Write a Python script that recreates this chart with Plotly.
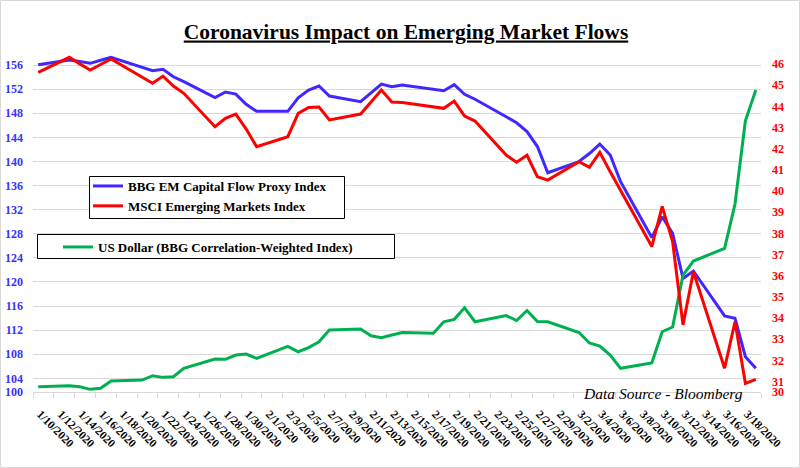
import plotly.graph_objects as go

# ---------------- data ----------------
trade_dates = [
    "2020-01-10", "2020-01-13", "2020-01-14", "2020-01-15", "2020-01-16", "2020-01-17",
    "2020-01-21", "2020-01-22", "2020-01-23", "2020-01-24",
    "2020-01-27", "2020-01-28", "2020-01-29", "2020-01-30", "2020-01-31",
    "2020-02-03", "2020-02-04", "2020-02-05", "2020-02-06", "2020-02-07",
    "2020-02-10", "2020-02-11", "2020-02-12", "2020-02-13", "2020-02-14",
    "2020-02-18", "2020-02-19", "2020-02-20", "2020-02-21",
    "2020-02-24", "2020-02-25", "2020-02-26", "2020-02-27", "2020-02-28",
    "2020-03-02", "2020-03-03", "2020-03-04", "2020-03-05", "2020-03-06",
    "2020-03-09", "2020-03-10", "2020-03-11", "2020-03-12", "2020-03-13",
    "2020-03-16", "2020-03-17", "2020-03-18", "2020-03-19",
]

bbg_em_flow = [
    156.05, 156.83, 156.58, 156.28, 156.78, 157.27,
    155.05, 155.28, 154.05, 153.23,
    150.60, 151.52, 151.18, 149.47, 148.31,
    148.31, 150.57, 151.85, 152.51, 150.85,
    149.91, 151.35, 152.84, 152.39, 152.68,
    151.73, 152.73, 151.15, 150.32,
    147.42, 146.42, 144.96, 142.47, 138.12,
    139.98, 141.31, 142.88, 141.06, 136.63,
    127.37, 130.82, 128.06, 120.59, 121.81,
    114.37, 113.96, 107.58, 105.66,
]

msci_em = [
    45.61, 46.32, 46.01, 45.72, 45.98, 46.24,
    45.09, 45.43, 44.96, 44.62,
    43.04, 43.44, 43.64, 42.93, 42.10,
    42.57, 43.67, 43.95, 43.97, 43.36,
    43.64, 44.21, 44.77, 44.21, 44.19,
    43.91, 44.25, 43.54, 43.31,
    41.70, 41.36, 41.69, 40.68, 40.52,
    41.39, 41.12, 41.83, 40.91, 40.02,
    37.38, 39.28, 37.61, 33.68, 36.19,
    31.63, 33.83, 30.92, 31.11,
]

usd_dates = [
    "2020-01-10", "2020-01-13", "2020-01-14", "2020-01-15", "2020-01-16", "2020-01-17",
    "2020-01-20", "2020-01-21", "2020-01-22", "2020-01-23", "2020-01-24",
    "2020-01-27", "2020-01-28", "2020-01-29", "2020-01-30", "2020-01-31",
    "2020-02-03", "2020-02-04", "2020-02-05", "2020-02-06", "2020-02-07",
    "2020-02-10", "2020-02-11", "2020-02-12", "2020-02-13", "2020-02-14",
    "2020-02-17", "2020-02-18", "2020-02-19", "2020-02-20", "2020-02-21",
    "2020-02-24", "2020-02-25", "2020-02-26", "2020-02-27", "2020-02-28",
    "2020-03-02", "2020-03-03", "2020-03-04", "2020-03-05", "2020-03-06",
    "2020-03-09", "2020-03-10", "2020-03-11", "2020-03-12", "2020-03-13",
    "2020-03-16", "2020-03-17", "2020-03-18", "2020-03-19",
]

us_dollar = [
    102.60, 102.77, 102.60, 102.17, 102.34, 103.55,
    103.71, 104.43, 104.16, 104.26, 105.66,
    107.20, 107.15, 107.86, 108.03, 107.32,
    109.31, 108.41, 109.11, 110.07, 112.01,
    112.18, 111.05, 110.74, 111.18, 111.60,
    111.47, 113.39, 113.79, 115.71, 113.39,
    114.42, 113.59, 115.25, 113.42, 113.39,
    111.60, 109.86, 109.36, 107.86, 105.66,
    106.54, 111.73, 112.51, 121.14, 123.47,
    125.57, 132.93, 146.75, 151.85,
]

tick_dates = [
    "2020-01-10", "2020-01-12", "2020-01-14", "2020-01-16", "2020-01-18", "2020-01-20",
    "2020-01-22", "2020-01-24", "2020-01-26", "2020-01-28", "2020-01-30",
    "2020-02-01", "2020-02-03", "2020-02-05", "2020-02-07", "2020-02-09", "2020-02-11",
    "2020-02-13", "2020-02-15", "2020-02-17", "2020-02-19", "2020-02-21", "2020-02-23",
    "2020-02-25", "2020-02-27", "2020-02-29",
    "2020-03-02", "2020-03-04", "2020-03-06", "2020-03-08", "2020-03-10", "2020-03-12",
    "2020-03-14", "2020-03-16", "2020-03-18",
]
tick_labels = [
    "1/10/2020", "1/12/2020", "1/14/2020", "1/16/2020", "1/18/2020", "1/20/2020",
    "1/22/2020", "1/24/2020", "1/26/2020", "1/28/2020", "1/30/2020",
    "2/1/2020", "2/3/2020", "2/5/2020", "2/7/2020", "2/9/2020", "2/11/2020",
    "2/13/2020", "2/15/2020", "2/17/2020", "2/19/2020", "2/21/2020", "2/23/2020",
    "2/25/2020", "2/27/2020", "2/29/2020",
    "3/2/2020", "3/4/2020", "3/6/2020", "3/8/2020", "3/10/2020", "3/12/2020",
    "3/14/2020", "3/16/2020", "3/18/2020",
]

left_min, left_max = 101.73, 158.16
left_tick_values = [left_min, 104, 108, 112, 116, 120, 124, 128, 132, 136, 140, 144, 148, 152, 156]
left_tick_labels = ["100", "104", "108", "112", "116", "120", "124", "128", "132", "136",
                    "140", "144", "148", "152", "156"]
right_min, right_max = 30.51, 46.57
right_tick_values = [right_min, 31, 32, 33, 34, 35, 36, 37, 38, 39, 40, 41, 42, 43, 44, 45, 46]
right_tick_labels = ["30", "31", "32", "33", "34", "35", "36", "37", "38", "39", "40",
                     "41", "42", "43", "44", "45", "46"]

# ---------------- styling ----------------
W, H = 800, 468
L, R, T, B = 33, 39, 52, 76
SERIF = "Liberation Serif, Times New Roman, serif"
BLUE = "#4127FF"
RED = "#FF0000"
GREEN = "#00B050"
GRID = "#D9D9D9"


def px_x(px):
    return (px - L) / (W - L - R)


def px_y(py):
    return (H - B - py) / (H - T - B)


fig = go.Figure()
fig.add_trace(go.Scatter(x=trade_dates, y=bbg_em_flow, mode="lines",
                         name="BBG EM Capital Flow Proxy Index",
                         line=dict(color=BLUE, width=3), legend="legend"))
fig.add_trace(go.Scatter(x=trade_dates, y=msci_em, mode="lines", yaxis="y2",
                         name="MSCI Emerging Markets Index",
                         line=dict(color=RED, width=3), legend="legend"))
fig.add_trace(go.Scatter(x=usd_dates, y=us_dollar, mode="lines",
                         name="US Dollar (BBG Correlation-Weighted Index)",
                         line=dict(color=GREEN, width=3), legend="legend2"))

legend_font = dict(family=SERIF, size=13, color="black", weight="bold")

fig.update_layout(
    width=W, height=H,
    margin=dict(l=L, r=R, t=T, b=B, pad=0, autoexpand=False),
    paper_bgcolor="white", plot_bgcolor="white",
    title=dict(text="<u>Coronavirus Impact on Emerging Market Flows</u>",
               xref="container", yref="container", x=406 / W, y=1 - 31 / H,
               xanchor="center", yanchor="middle",
               font=dict(family=SERIF, size=21.5, color="black", weight="bold")),
    xaxis=dict(type="date", range=["2020-01-09 12:00", "2020-03-19 12:00"],
               automargin=False,
               tickmode="array", tickvals=tick_dates, ticktext=tick_labels,
               tickangle=45, ticks="", showgrid=False, zeroline=False,
               showline=True, linecolor=GRID, linewidth=1,
               ticklabelstandoff=10, ticklabelshift=2,
               tickfont=dict(family=SERIF, size=11.5, color="black", weight="bold"),
               minor=dict(ticks="outside", tick0="2020-01-09 12:00", dtick=2 * 86400000,
                          ticklen=5, tickcolor=GRID, tickwidth=1, showgrid=False)),
    yaxis=dict(range=[left_min, left_max], tickmode="array", automargin=False,
               tickvals=left_tick_values, ticktext=left_tick_labels,
               showgrid=True, gridcolor=GRID, gridwidth=1, zeroline=False,
               showline=False, ticks="", ticklabelstandoff=9,
               tickfont=dict(family=SERIF, size=12, color="#3333FF", weight="bold")),
    yaxis2=dict(range=[right_min, right_max], overlaying="y", side="right", automargin=False,
                tickmode="array", tickvals=right_tick_values, ticktext=right_tick_labels,
                showgrid=False, zeroline=False, showline=False, ticks="",
                ticklabelstandoff=10,
                tickfont=dict(family=SERIF, size=12, color=RED, weight="bold")),
    legend=dict(xref="paper", yref="paper", x=px_x(88), y=px_y(171),
                xanchor="left", yanchor="top", bgcolor="rgba(0,0,0,0)",
                borderwidth=0, font=legend_font, tracegroupgap=0),
    legend2=dict(xref="paper", yref="paper", x=px_x(58), y=px_y(232),
                 xanchor="left", yanchor="top", bgcolor="rgba(0,0,0,0)",
                 borderwidth=0, font=legend_font),
    showlegend=True,
    shapes=[
        dict(type="rect", xref="paper", yref="paper",
             x0=px_x(0.5), x1=px_x(799.5), y0=px_y(467.5), y1=px_y(0.5),
             line=dict(color=GRID, width=1), fillcolor="rgba(0,0,0,0)", layer="below"),
        dict(type="rect", xref="paper", yref="paper",
             x0=px_x(89.5), x1=px_x(344.5), y0=px_y(218.5), y1=px_y(176.5),
             line=dict(color="black", width=1), fillcolor="white", layer="above"),
        dict(type="rect", xref="paper", yref="paper",
             x0=px_x(37.5), x1=px_x(394.5), y0=px_y(258.5), y1=px_y(234.5),
             line=dict(color="black", width=1), fillcolor="white", layer="above"),
    ],
    annotations=[
        dict(text="Data Source - Bloomberg", xref="paper", yref="paper",
             x=px_x(581), y=px_y(393), xanchor="left", yanchor="middle",
             showarrow=False,
             font=dict(family=SERIF, size=15.5, color="black", style="italic")),
    ],
)

fig.write_html("out.html", config={"displayModeBar": False},
               post_script="document.body.style.margin='0';")
